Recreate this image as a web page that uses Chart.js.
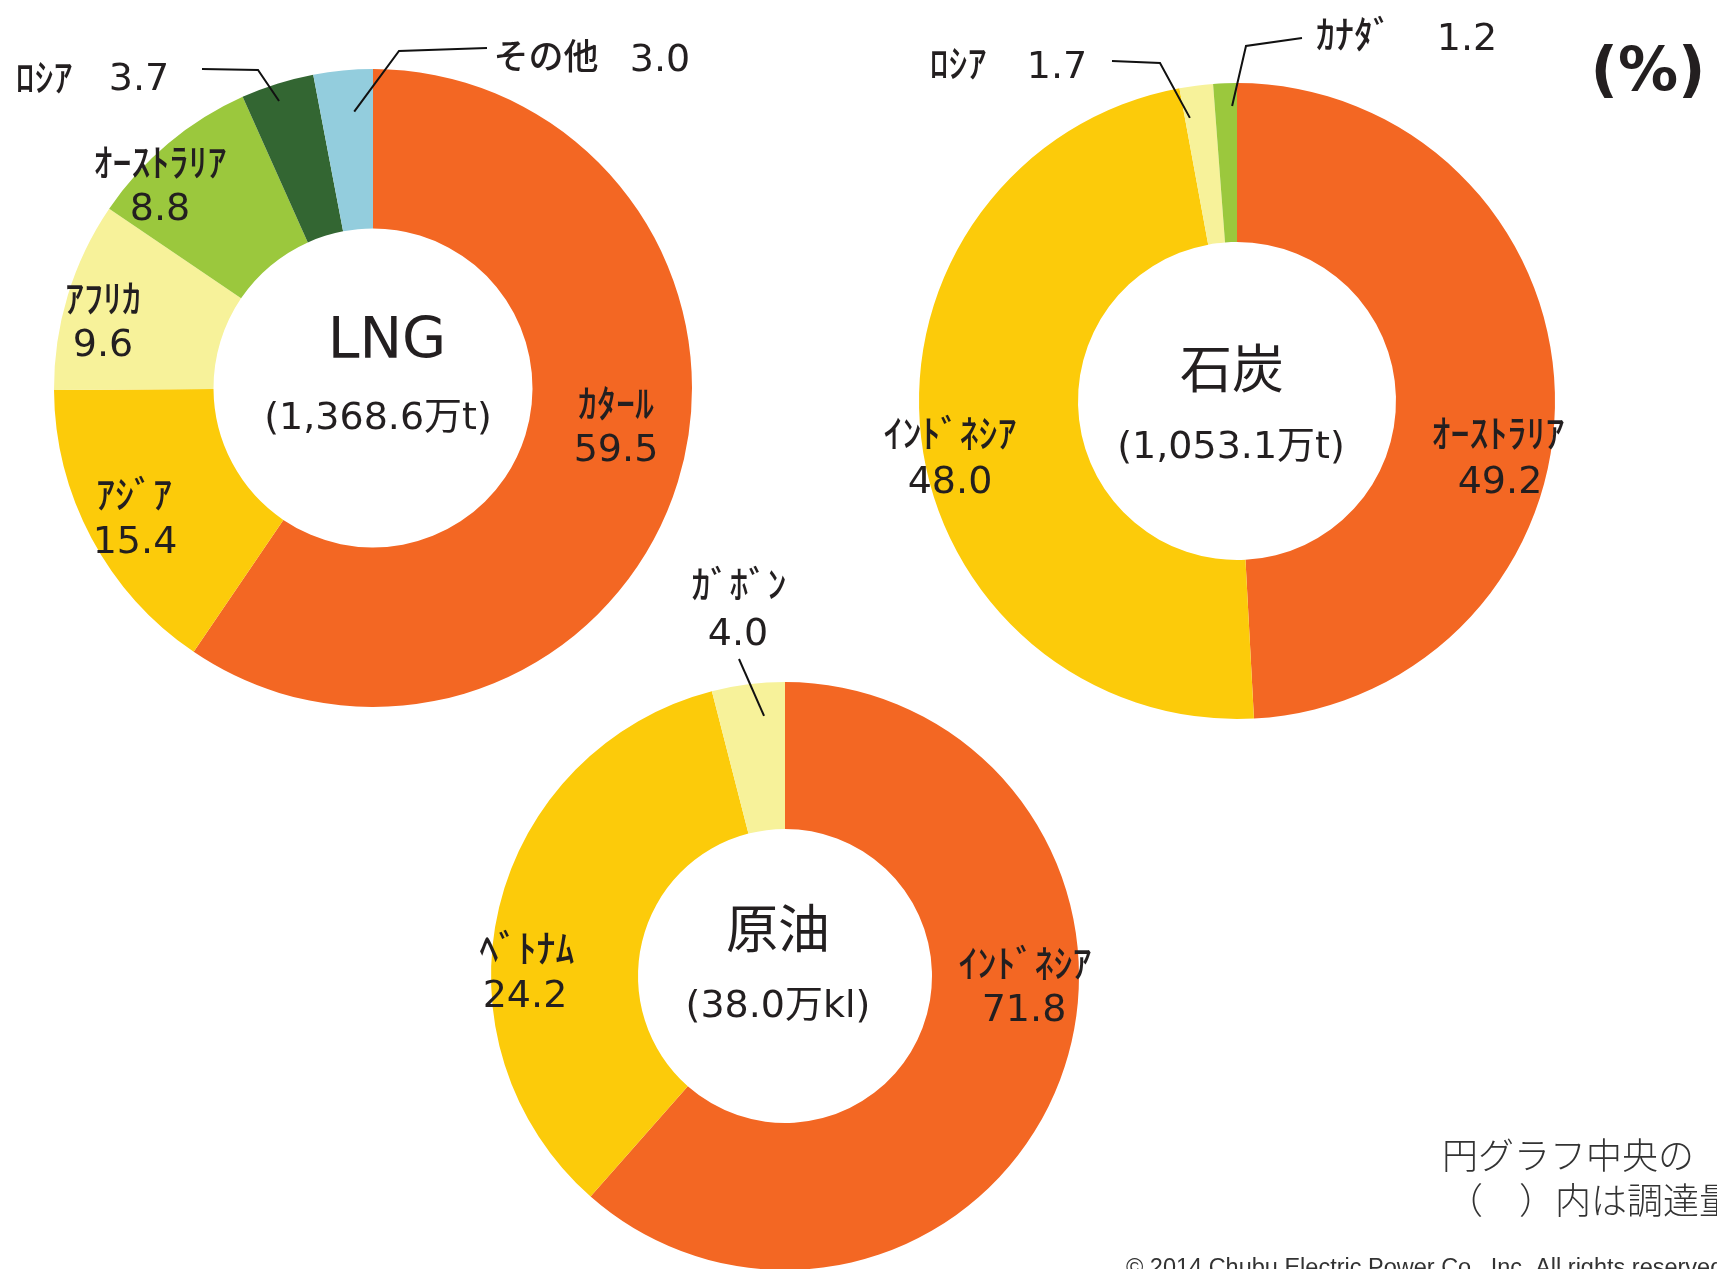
<!DOCTYPE html>
<html lang="ja">
<head>
<meta charset="utf-8">
<script src="https://cdn.jsdelivr.net/npm/chart.js@4.4.1/dist/chart.umd.min.js"></script>
<style>
  html, body { margin: 0; padding: 0; background: #ffffff; }
  body { width: 1717px; height: 1269px; position: relative; overflow: hidden; }
  canvas { position: absolute; left: 0; top: 0; }
</style>
</head>
<body>
<canvas id="lng" width="1717" height="1269"></canvas>
<canvas id="coal" width="1717" height="1269"></canvas>
<canvas id="crude" width="1717" height="1269"></canvas>
<script>
// ---------------- data ----------------
const lngCategories   = ['ｶﾀｰﾙ', 'ｱｼﾞｱ', 'ｱﾌﾘｶ', 'ｵｰｽﾄﾗﾘｱ', 'ﾛｼｱ', 'その他'];
const lngValues       = [59.5, 15.4, 9.6, 8.8, 3.7, 3.0];
const lngPrinted      = ['59.5', '15.4', '9.6', '8.8', '3.7', '3.0'];
const coalCategories  = ['ｵｰｽﾄﾗﾘｱ', 'ｲﾝﾄﾞﾈｼｱ', 'ﾛｼｱ', 'ｶﾅﾀﾞ'];
const coalValues      = [49.2, 48.0, 1.7, 1.2];
const coalPrinted     = ['49.2', '48.0', '1.7', '1.2'];
const crudeCategories = ['ｲﾝﾄﾞﾈｼｱ', 'ﾍﾞﾄﾅﾑ', 'ｶﾞﾎﾞﾝ'];
// slice sizes as drawn in the picture (the printed labels below differ from the drawn wedges)
const crudeValues     = [61.5, 34.5, 4.0];
const crudePrinted    = ['71.8', '24.2', '4.0'];
const chartTitles     = ['LNG', '石炭', '原油'];
const chartTotals     = ['(1,368.6万t)', '(1,053.1万t)', '(38.0万kl)'];
const unitLabel       = '(%)';
const noteLines       = ['円グラフ中央の', '（　）内は調達量'];
const copyrightText   = '© 2014 Chubu Electric Power Co., Inc. All rights reserved.';

// ---------------- styles ----------------
const ORANGE = '#F36723', GOLD = '#FCCB0A', PALE = '#F7F29A', LIME = '#9BC83D', DKGREEN = '#336632', LBLUE = '#93CDDD';
const TEXT = '#231F20';
const NUM_FONT = '38px "DejaVu Sans", "Noto Sans CJK JP", sans-serif';
const KANA_FONT = '500 38px "Noto Sans CJK JP", sans-serif';

// label layout (pixel positions, separate from the data)
const lngLayout = {
  center: [373, 388], radius: 319, colors: [ORANGE, GOLD, PALE, LIME, DKGREEN, LBLUE],
  printed: lngPrinted,
  title: { text: chartTitles[0], x: 387, y: 358, font: '57px "DejaVu Sans", sans-serif' },
  total: { text: chartTotals[0], x: 378, y: 429 },
  items: [
    { name: [616, 403], val: [616, 461] },
    { name: [134, 494], val: [135, 553] },
    { name: [103, 298], val: [103, 356] },
    { name: [160, 162], val: [160, 220] },
    { name: [44, 77],   val: [139, 90], leader: { pts: [[202, 69], [258, 70]], t: 0.45, rho: 302 } },
    { name: [546, 56],  val: [660, 71], nameFont: '500 35px "Noto Sans CJK JP", sans-serif', leader: { pts: [[487, 48], [399, 51]], t: 0.64, rho: 277 } }
  ]
};
const coalLayout = {
  center: [1237, 401], radius: 318, colors: [ORANGE, GOLD, PALE, LIME],
  printed: coalPrinted,
  title: { text: chartTitles[1], x: 1232, y: 368, middle: true, font: '52px "Noto Sans CJK JP", sans-serif' },
  total: { text: chartTotals[1], x: 1231, y: 458 },
  items: [
    { name: [1498, 433], val: [1500, 493] },
    { name: [950, 433],  val: [950, 493] },
    { name: [958, 63],   val: [1057, 78], leader: { pts: [[1112, 61], [1160, 63]], t: 0.16, rho: 287 } },
    { name: [1354, 34],  val: [1467, 50], leader: { pts: [[1302, 38], [1246, 46]], t: 0.78, rho: 295 } }
  ]
};
const crudeLayout = {
  center: [785, 976], radius: 294, colors: [ORANGE, GOLD, PALE],
  printed: crudePrinted,
  title: { text: chartTitles[2], x: 778, y: 928, middle: true, font: '52px "Noto Sans CJK JP", sans-serif' },
  total: { text: chartTotals[2], x: 778, y: 1017 },
  items: [
    { name: [1025, 963], val: [1024, 1021] },
    { name: [527, 948],  val: [525, 1007] },
    { name: [739, 584],  val: [738, 645], leader: { pts: [[739, 659]], t: 0.68, rho: 261 } }
  ]
};

const labelPlugin = {
  id: 'donutLabels',
  afterDatasetsDraw(chart, args, opts) {
    const L = opts.layout;
    const ctx = chart.ctx;
    const meta = chart.getDatasetMeta(0);
    ctx.save();
    ctx.fillStyle = TEXT;
    ctx.strokeStyle = '#111';
    ctx.textAlign = 'center';
    ctx.font = L.title.font;
    ctx.textBaseline = L.title.middle ? 'middle' : 'alphabetic';
    ctx.fillText(L.title.text, L.title.x, L.title.y);
    ctx.font = NUM_FONT;
    ctx.textBaseline = 'alphabetic';
    ctx.fillText(L.total.text, L.total.x, L.total.y);
    L.items.forEach((it, i) => {
      ctx.font = it.nameFont || KANA_FONT;
      ctx.textBaseline = 'middle';
      ctx.fillText(chart.data.labels[i], it.name[0], it.name[1]);
      ctx.font = NUM_FONT;
      ctx.textBaseline = 'alphabetic';
      ctx.fillText(L.printed[i], it.val[0], it.val[1]);
      if (it.leader) {
        const arc = meta.data[i];
        const p = arc.getProps(['x', 'y', 'startAngle', 'endAngle'], true);
        const a = p.startAngle + it.leader.t * (p.endAngle - p.startAngle);
        const ex = p.x + it.leader.rho * Math.cos(a);
        const ey = p.y + it.leader.rho * Math.sin(a);
        ctx.lineWidth = 2;
        ctx.beginPath();
        it.leader.pts.forEach((q, k) => k === 0 ? ctx.moveTo(q[0], q[1]) : ctx.lineTo(q[0], q[1]));
        ctx.lineTo(ex, ey);
        ctx.stroke();
      }
    });
    if (opts.extras) {
      ctx.font = 'bold 60px "DejaVu Sans", sans-serif';
      ctx.textBaseline = 'middle';
      ctx.fillText(unitLabel, 1648, 74);
      ctx.textAlign = 'left';
      ctx.font = '300 36px "Noto Sans CJK JP", sans-serif';
      ctx.fillStyle = '#333333';
      ctx.fillText(noteLines[0], 1442, 1155);
      ctx.fillText(noteLines[1], 1447, 1200);
      ctx.font = '23.5px "Liberation Sans", Arial, sans-serif';
      ctx.textBaseline = 'alphabetic';
      ctx.fillText(copyrightText, 1126, 1275);
    }
    ctx.restore();
  }
};

function makeDonut(id, labels, values, L, extras) {
  const W = 1717, H = 1269;
  const [cx, cy] = L.center;
  const half = Math.min(cx, W - cx, cy, H - cy);
  const pad = {
    left: Math.max(0, cx - half), right: Math.max(0, W - cx - half),
    top: Math.max(0, cy - half), bottom: Math.max(0, H - cy - half)
  };
  return new Chart(document.getElementById(id), {
    type: 'doughnut',
    data: {
      labels: labels,
      datasets: [{ data: values, backgroundColor: L.colors, borderWidth: 0, hoverOffset: 0 }]
    },
    options: {
      responsive: false,
      animation: false,
      devicePixelRatio: 1,
      radius: L.radius,
      cutout: '50%',
      layout: { padding: pad },
      events: [],
      plugins: {
        legend: { display: false },
        tooltip: { enabled: false },
        donutLabels: { layout: L, extras: extras }
      }
    },
    plugins: [labelPlugin]
  });
}

makeDonut('lng', lngCategories, lngValues, lngLayout, false);
makeDonut('coal', coalCategories, coalValues, coalLayout, true);
makeDonut('crude', crudeCategories, crudeValues, crudeLayout, false);
</script>
</body>
</html>
